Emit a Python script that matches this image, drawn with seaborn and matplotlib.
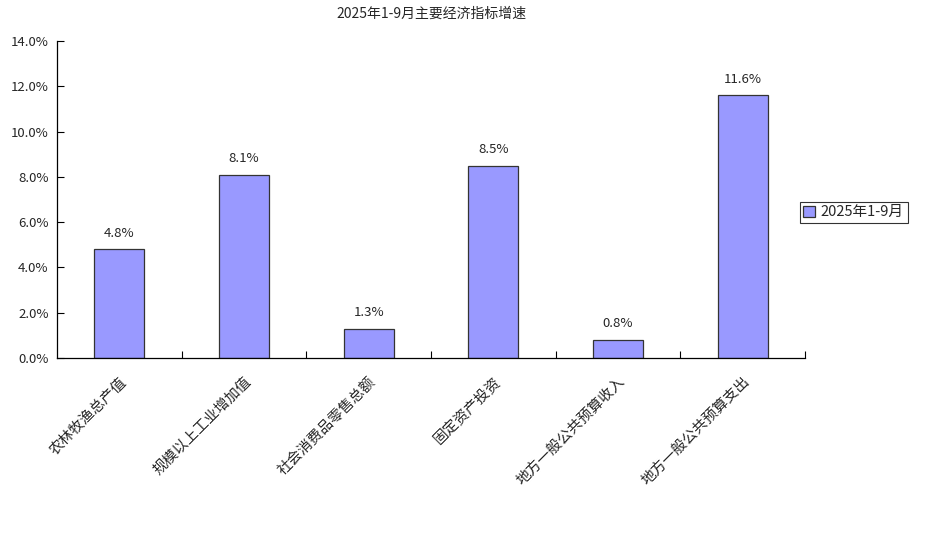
import matplotlib
matplotlib.use("Agg")
import matplotlib.pyplot as plt
import seaborn as sns
import pandas as pd
import numpy as np
from matplotlib.ticker import FixedLocator, FuncFormatter

categories = ["农林牧渔总产值", "规模以上工业增加值", "社会消费品零售总额", "固定资产投资",
              "地方一般公共预算收入", "地方一般公共预算支出"]
values = [4.8, 8.1, 1.3, 8.5, 0.8, 11.6]
series_name = "2025年1-9月"
title = "2025年1-9月主要经济指标增速"

sns.set_theme(style="white")
plt.rcParams['font.family'] = ['Noto Sans CJK SC', 'DejaVu Sans']

df = pd.DataFrame({"category": categories, "value": values, "series": series_name})

fig = plt.figure(figsize=(9.29, 5.34), dpi=100)
ax = fig.add_axes([57/929, 1-358/534, (805-57)/929, (358-41)/534])

sns.barplot(data=df, x="category", y="value", hue="series", ax=ax,
            palette=["#9999FF"], edgecolor="#333333", linewidth=0.9,
            width=0.4, saturation=1)

ax.set_ylim(0, 14)
ax.set_xlim(-0.5, len(categories) - 0.5)
ax.yaxis.set_major_locator(FixedLocator(np.arange(0, 14.01, 2)))
ax.yaxis.set_major_formatter(FuncFormatter(lambda v, p: f"{v:.1f}%"))
ax.set_xlabel("")
ax.set_ylabel("")

for s in ["top", "right"]:
    ax.spines[s].set_visible(False)
for s in ["left", "bottom"]:
    ax.spines[s].set_color("#000000")
    ax.spines[s].set_linewidth(0.9)

ax.tick_params(axis="y", direction="in", length=5, width=0.8, color="#000000",
               labelsize=9.5, pad=6, left=True)
ax.tick_params(axis="x", which="major", length=0, labelsize=10.5, pad=12)
ax.set_xticks(np.arange(len(categories)) + 0.5, minor=True)
ax.tick_params(axis="x", which="minor", direction="in", length=5, width=0.8,
               color="#000000", bottom=True)
ax.set_xticks(np.arange(len(categories)))
ax.set_xticklabels(categories, rotation=45, ha="right", rotation_mode="anchor")

for i, v in enumerate(values):
    ax.annotate(f"{v:.1f}%", (i, v), xytext=(0, 7), textcoords="offset points",
                ha="center", va="bottom", fontsize=9.5)

ax.set_title(title, fontsize=10, pad=17)

leg = ax.legend(loc="center left", bbox_to_anchor=(1-0.007, 0.46), frameon=True,
                fancybox=False, fontsize=10.5, handlelength=0.8, handleheight=0.8,
                handletextpad=0.4, borderpad=0.25, borderaxespad=0)
leg.get_frame().set_edgecolor("#000000")
leg.get_frame().set_linewidth(0.8)

fig.savefig("out.png", dpi=100)
